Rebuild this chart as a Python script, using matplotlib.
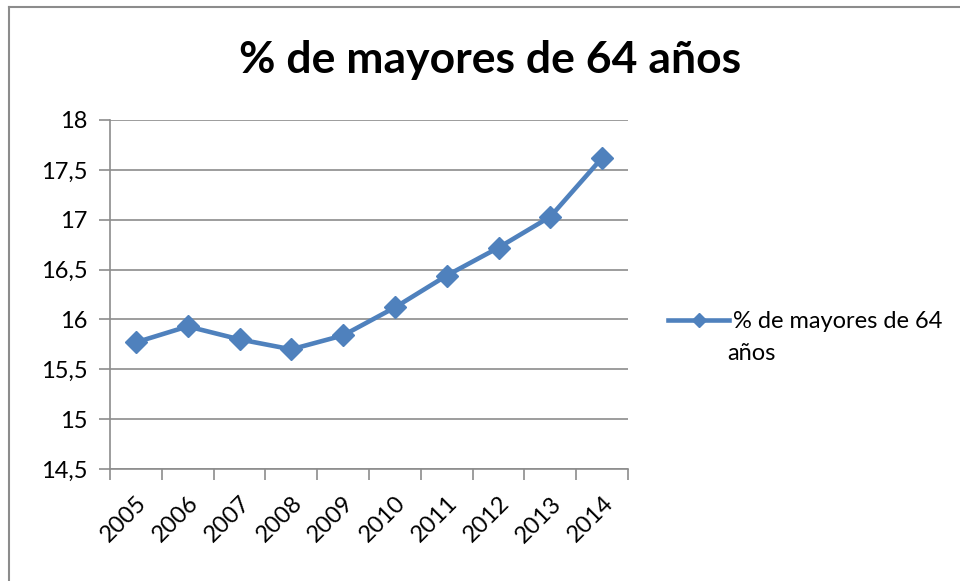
import numpy as np
import matplotlib.pyplot as plt
from matplotlib.lines import Line2D

plt.rcParams.update({
    'font.family': ['Lato', 'DejaVu Sans'],
    'font.size': 17,
})

# data
years = ['2005', '2006', '2007', '2008', '2009', '2010', '2011', '2012', '2013', '2014']
pct_mayores = [15.77, 15.93, 15.80, 15.70, 15.84, 16.12, 16.44, 16.72, 17.03, 17.62]
serie_l1 = '% de mayores de 64'
serie_l2 = 'años'
titulo = '% de mayores de 64 años'

blue = '#4F81BD'
grid_gray = '#8C8C8C'

fig = plt.figure(figsize=(9.6, 5.81), dpi=100)
ax = fig.add_axes([110 / 960, 1 - 469 / 581, (628 - 110) / 960, (469 - 120) / 581])

x = np.arange(len(years))
ax.plot(x, pct_mayores, color=blue, lw=3.3, marker='D', ms=11.5, mec=blue, mfc=blue,
        solid_joinstyle='round')

ax.set_xlim(-0.5, len(years) - 0.5)
ax.set_ylim(14.5, 18)
yt = np.arange(14.5, 18.01, 0.5)
ax.set_yticks(yt)
ax.set_yticklabels([f'{v:g}'.replace('.', ',') for v in yt])
ax.yaxis.grid(True, color=grid_gray, lw=1.2)
ax.set_axisbelow(True)

# category ticks at boundaries, labels at centres
ax.set_xticks(np.arange(-0.5, len(years), 1.0))
ax.set_xticklabels([])
ax.set_xticks(x, minor=True)
ax.set_xticklabels(years, minor=True, rotation=45, ha='right', va='top',
                   rotation_mode='anchor', fontsize=17)
ax.tick_params(axis='x', which='minor', length=0, pad=17)
ax.tick_params(axis='x', which='major', length=8, color=grid_gray, width=1.2)
ax.tick_params(axis='y', length=8, color=grid_gray, width=1.2, pad=8, labelsize=17)

for s in ['top', 'right']:
    ax.spines[s].set_visible(False)
for s in ['left', 'bottom']:
    ax.spines[s].set_color(grid_gray)
    ax.spines[s].set_linewidth(1.2)

fig.text(490 / 960, 1 - 60 / 581, titulo, ha='center', va='center',
         fontsize=32, fontweight='bold')

# legend: handle sits on the first line of a wrapped label
handle = Line2D([], [], color=blue, lw=3.3, marker='D', ms=7, mec=blue, mfc=blue)
leg = fig.legend([handle], [serie_l1], loc='center left',
                 bbox_to_anchor=(668 / 960, 1 - 322 / 581),
                 frameon=False, handlelength=2.6, handletextpad=0.15, fontsize=17,
                 borderpad=0, borderaxespad=0)
fig.text(727 / 960, 1 - 353 / 581, serie_l2, ha='left', va='center', fontsize=17)

# outer chart frame: only top and left edges are visible in the crop
fig.add_artist(Line2D([9 / 960, 1], [1 - 7 / 581, 1 - 7 / 581],
                      transform=fig.transFigure, color=grid_gray, lw=1.5))
fig.add_artist(Line2D([9 / 960, 9 / 960], [0, 1 - 7 / 581],
                      transform=fig.transFigure, color=grid_gray, lw=1.5))

fig.savefig('out.png', dpi=100)
